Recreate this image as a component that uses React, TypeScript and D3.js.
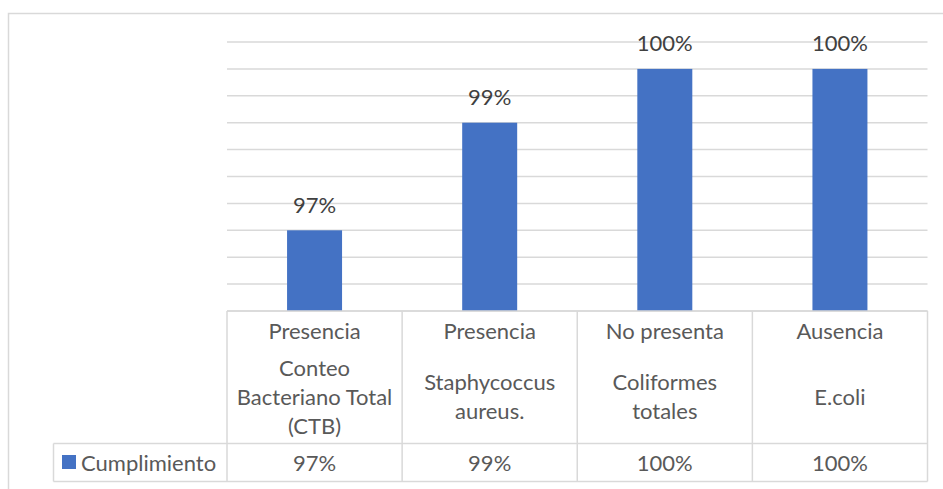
import React from "react";
import * as d3 from "d3";

// Series data
const seriesName = "Cumplimiento";
const values = [97, 99, 100, 100];
const valueLabels = ["97%", "99%", "100%", "100%"];

// Category labels: a heading line plus the wrapped description lines
const headings = ["Presencia", "Presencia", "No presenta", "Ausencia"];
const descriptions = [
  ["Conteo", "Bacteriano Total", "(CTB)"],
  ["Staphycoccus", "aureus."],
  ["Coliformes", "totales"],
  ["E.coli"],
];
const categories = descriptions.map((d) => d.join(" "));

// Value axis (hidden) and gridline steps
const yMin = 95.5;
const yMax = 100.5;
const yStep = 0.5;

const W = 943;
const H = 489;
const FONT = "Lato, 'Liberation Sans', sans-serif";
const BAR = "#4472c4";
const GRID = "#d9d9d9";
const TEXT = "#595959";
const LABEL = "#404040";

export default function App() {
  const plotLeft = 227;
  const plotRight = 927.5;
  const plotTop = 42;
  const plotBottom = 311;
  const rowSplit = 443.5;
  const tableBottom = 481.5;
  const legendLeft = 53.5;

  const x = d3
    .scaleBand<string>()
    .domain(categories)
    .range([plotLeft, plotRight])
    .paddingInner(0.686)
    .paddingOuter(0.343);
  const step = x.step();

  const y = d3.scaleLinear().domain([yMin, yMax]).range([plotBottom, plotTop]);
  const grid = d3.range(yMin, yMax + yStep / 2, yStep);

  const lineH = 29;
  const headingY = 330;
  const descCenter = 396;
  const fs = 22;

  return (
    <svg
      width={W}
      height={H}
      style={{ position: "absolute", left: 0, top: 0, background: "#fff" }}
      fontFamily={FONT}
    >
      {/* chart frame */}
      <rect x={8.5} y={13.5} width={W + 10} height={H + 10} fill="#fff" stroke={GRID} strokeWidth={1.5} />

      {/* gridlines */}
      {grid.map((g) => (
        <line key={g} x1={plotLeft} x2={plotRight} y1={y(g)} y2={y(g)} stroke={GRID} strokeWidth={1.5} />
      ))}

      {/* bars */}
      {categories.map((c, i) => (
        <rect
          key={c}
          x={x(c)!}
          y={y(values[i])}
          width={x.bandwidth()}
          height={y(yMin) - y(values[i])}
          fill={BAR}
        />
      ))}

      {/* data labels */}
      {categories.map((c, i) => (
        <text
          key={c}
          x={x(c)! + x.bandwidth() / 2}
          y={y(values[i]) - 26}
          textAnchor="middle"
          dominantBaseline="central"
          fontSize={fs}
          fill={LABEL}
        >
          {valueLabels[i]}
        </text>
      ))}

      {/* data table grid */}
      <g stroke={GRID} strokeWidth={1.5} fill="none">
        <line x1={plotLeft} x2={plotRight} y1={plotBottom} y2={plotBottom} />
        <line x1={legendLeft} x2={plotRight} y1={rowSplit} y2={rowSplit} />
        <line x1={legendLeft} x2={plotRight} y1={tableBottom} y2={tableBottom} />
        <line x1={legendLeft} x2={legendLeft} y1={rowSplit} y2={tableBottom} />
        {d3.range(categories.length + 1).map((k) => (
          <line
            key={k}
            x1={plotLeft + k * step}
            x2={plotLeft + k * step}
            y1={plotBottom}
            y2={tableBottom}
          />
        ))}
      </g>

      {/* category labels */}
      {categories.map((c, i) => {
        const cx = x(c)! + x.bandwidth() / 2;
        const lines = descriptions[i];
        const start = descCenter - ((lines.length - 1) * lineH) / 2;
        return (
          <g key={c} fontSize={fs} fill={TEXT} textAnchor="middle">
            <text x={cx} y={headingY} dominantBaseline="central">
              {headings[i]}
            </text>
            {lines.map((l, j) => (
              <text key={j} x={cx} y={start + j * lineH} dominantBaseline="central">
                {l}
              </text>
            ))}
            <text x={cx} y={(rowSplit + tableBottom) / 2} dominantBaseline="central">
              {valueLabels[i]}
            </text>
          </g>
        );
      })}

      {/* legend key */}
      <rect x={62} y={455} width={14} height={14} fill={BAR} />
      <text
        x={81}
        y={(rowSplit + tableBottom) / 2}
        dominantBaseline="central"
        fontSize={fs}
        fill={TEXT}
      >
        {seriesName}
      </text>
    </svg>
  );
}
